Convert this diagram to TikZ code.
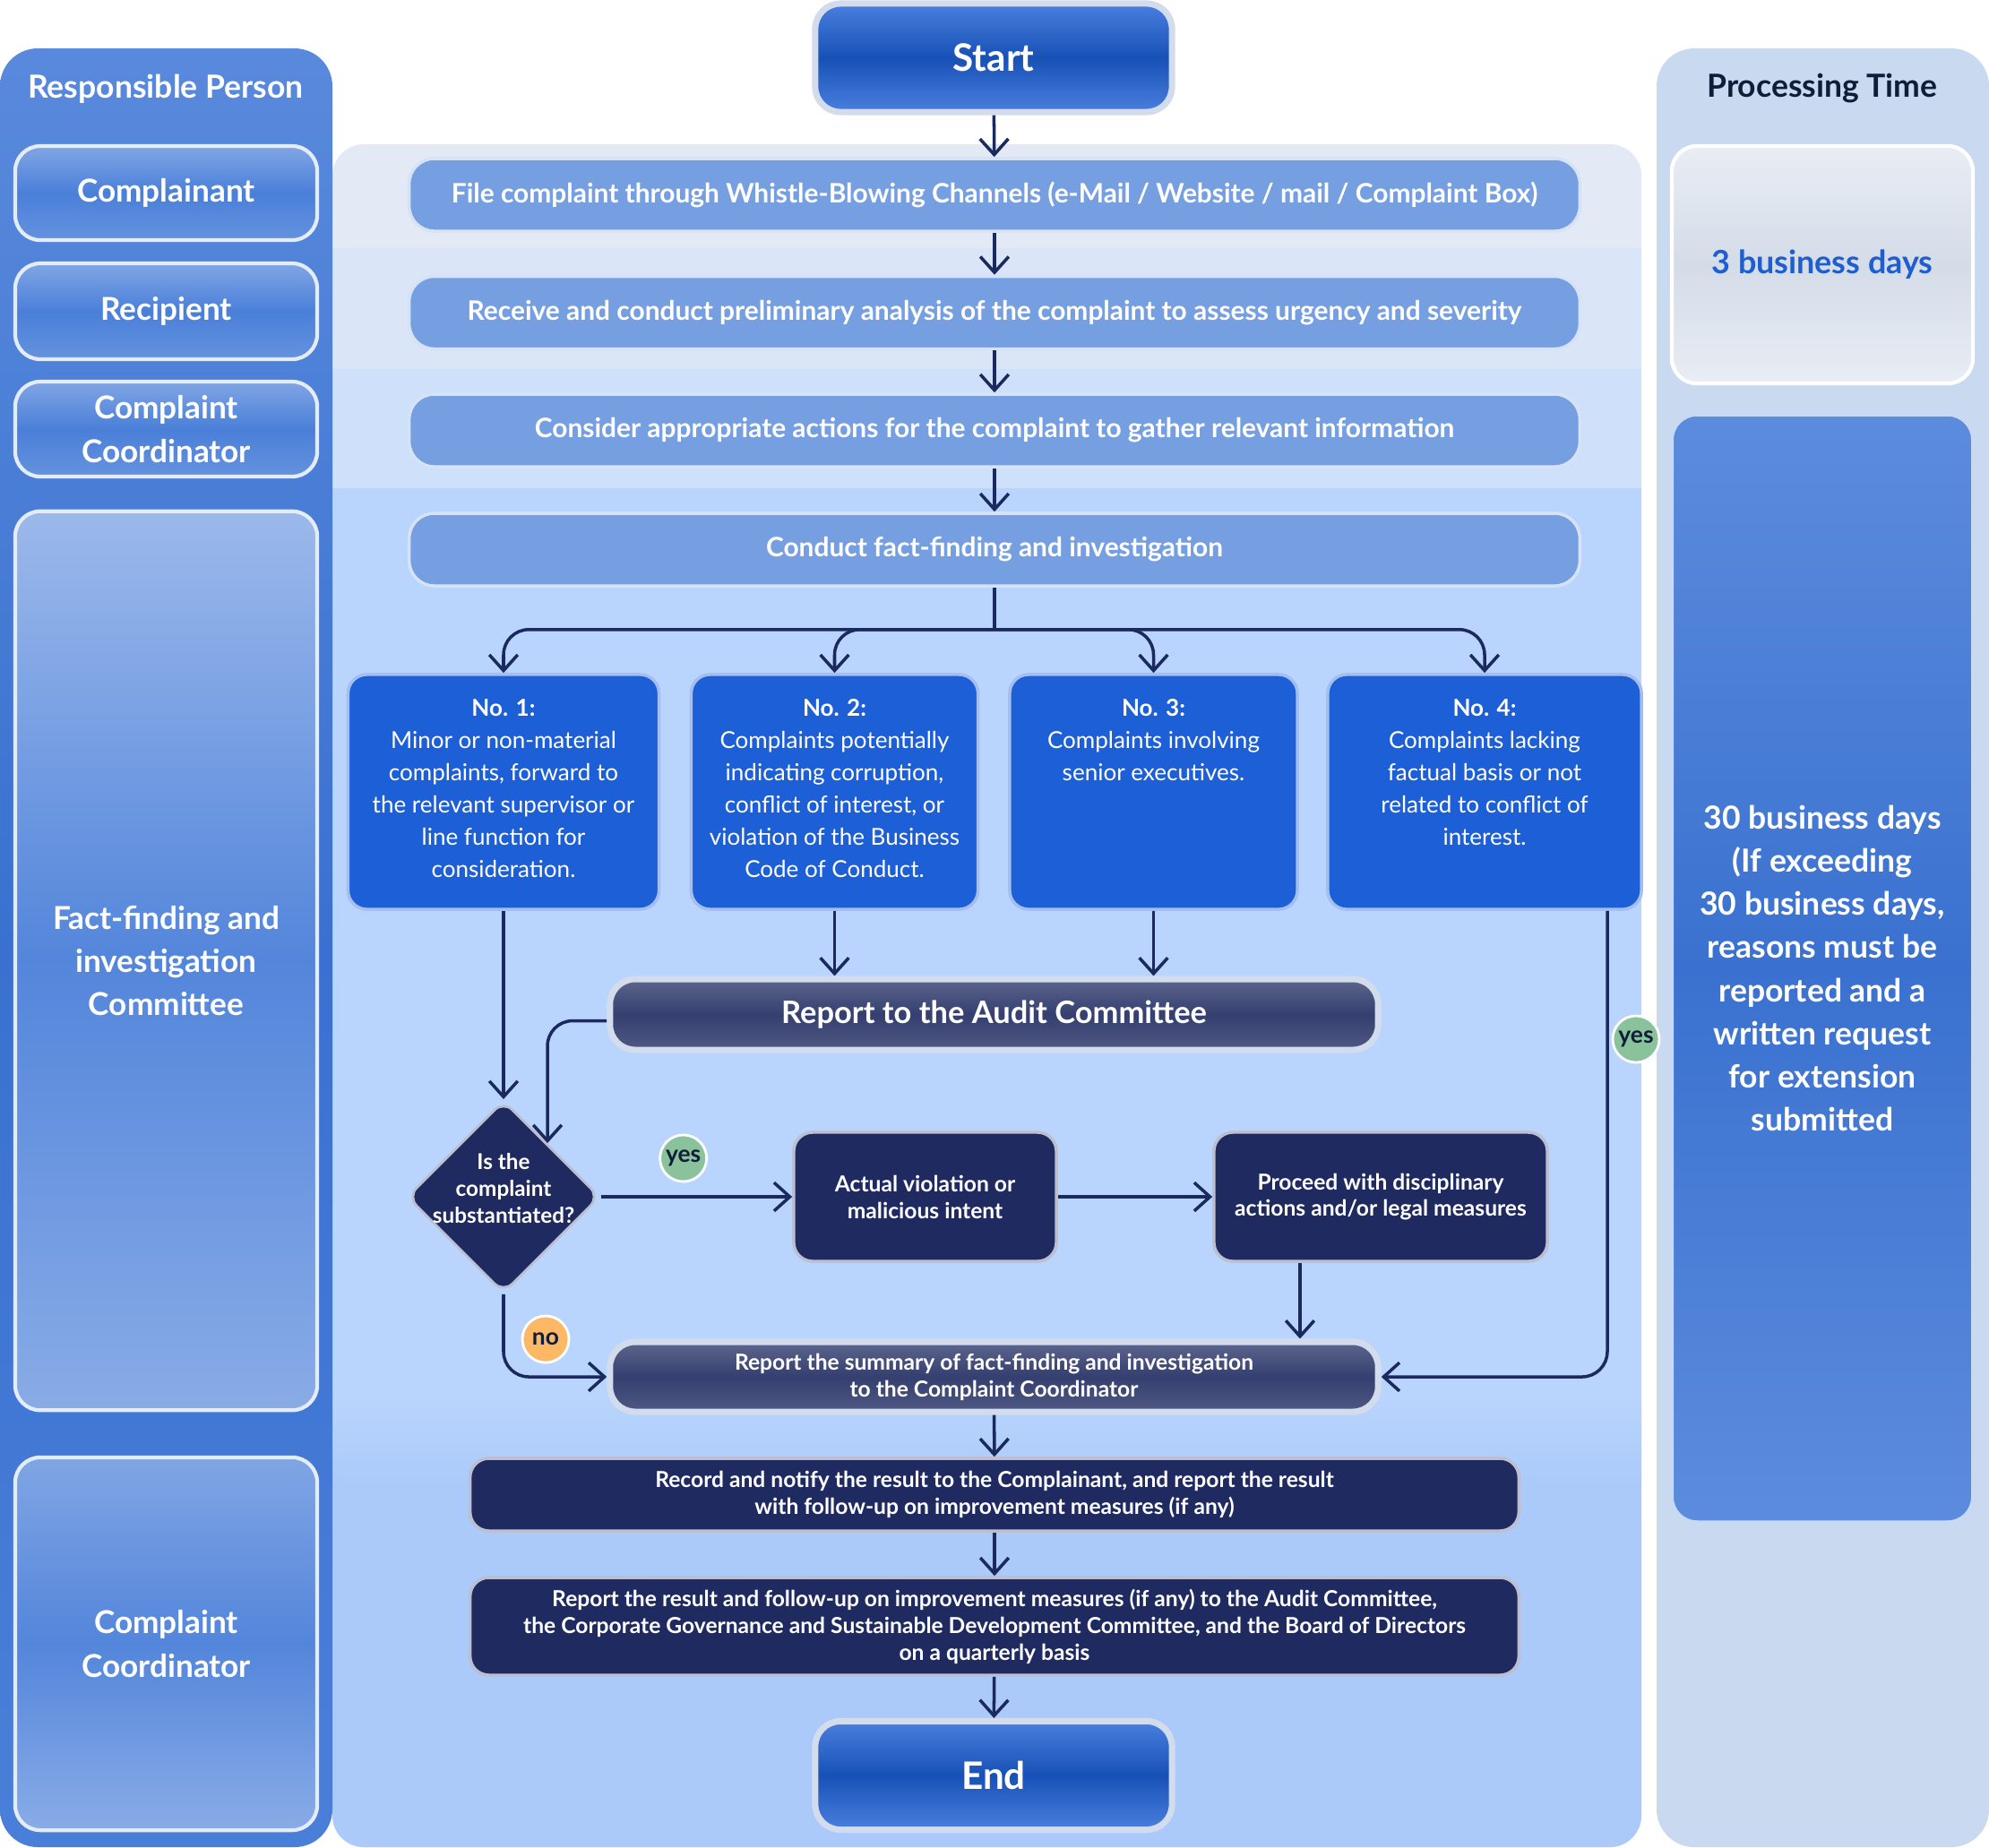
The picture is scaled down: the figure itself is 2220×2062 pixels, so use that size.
\documentclass[tikz,border=0pt]{standalone}
\usepackage{fontspec}
\setmainfont{Lato}
\usepackage{xcolor}
\usetikzlibrary{shapes,arrows.meta,positioning,calc}

\definecolor{colbg}{HTML}{4A7FD9}
\definecolor{colbgdark}{HTML}{3A71D0}
\definecolor{timebg}{HTML}{C9D9F0}
\definecolor{stepblue}{HTML}{769FE2}
\definecolor{casebg}{HTML}{1C5FD6}
\definecolor{navy}{HTML}{1E2A60}
\definecolor{arrowc}{HTML}{1B2A5E}
\definecolor{bandA}{HTML}{E3E9F5}
\definecolor{bandB}{HTML}{DAE5F8}
\definecolor{bandC}{HTML}{CFE0FB}
\definecolor{bandD}{HTML}{B9D5FD}
\definecolor{bandE}{HTML}{ABCAFA}
\definecolor{yesgreen}{HTML}{8AC29C}
\definecolor{noorange}{HTML}{FDB865}
\definecolor{daysblue}{HTML}{1F5ED0}
\definecolor{headdark}{HTML}{0F1E38}
\definecolor{rim}{HTML}{D3DCEC}
\definecolor{daystop}{HTML}{E9EDF4}
\definecolor{daysmid}{HTML}{D4DCE8}

\newcommand{\fsz}[2]{\fontsize{#1}{#2}\selectfont}
\newcommand{\casetext}[2]{\parbox[c][2.06cm][t]{#1}{\centering #2}}

\tikzstyle{line} = [draw=arrowc, line width=1pt, -{Straight Barb[length=5pt,width=9pt,line width=1pt]}]
\tikzstyle{rolebox} = [draw=white!85!colbg, line width=1.2pt, rounded corners=8pt,
  top color=colbg!70!white, bottom color=colbg!85!white, middle color=colbg,
  text=white, font=\bfseries\fsz{10}{13.7}, align=center, minimum width=3.37cm]
\tikzstyle{stepbox} = [fill=stepblue, draw=white!70!stepblue, line width=1pt, rounded corners=8pt,
  text=white, font=\bfseries\fsz{8.5}{10}, minimum width=13.06cm, minimum height=0.81cm]
\tikzstyle{casebox} = [fill=casebg, draw=white!60!casebg, line width=1pt, rounded corners=6pt,
  text=white, font=\fsz{7.4}{10.2}, inner xsep=0pt, inner ysep=0.28cm]
\tikzstyle{darkbox} = [fill=navy, draw=white!70!navy, line width=1pt, rounded corners=6pt,
  text=white, font=\bfseries\fsz{7}{8.5}, align=center]
\tikzstyle{glossbox} = [draw=rim, line width=2pt, rounded corners=8pt,
  top color=navy!72!white, bottom color=navy!78!white, middle color=navy!90!white,
  text=white, align=center, minimum width=8.57cm]
\tikzstyle{terminal} = [draw=rim, line width=2pt, rounded corners=8pt,
  top color=casebg!80!white, bottom color=casebg!80!white, middle color=casebg!85!black,
  text=white, font=\bfseries\fsz{12}{14}, minimum width=3.98cm, minimum height=1.21cm]
\tikzstyle{tag} = [circle, draw=white, line width=0.8pt, minimum size=0.52cm, inner sep=0pt,
  font=\bfseries\fsz{7.5}{9}, text=headdark]

\begin{document}
\begin{tikzpicture}[x=0.01cm, y=-0.01cm]
  \useasboundingbox (0,0) rectangle (2220,2062);

  % lanes in the middle
  \fill[bandA, rounded corners=10pt] (371,161) rectangle (1832,2062);
  \fill[bandB] (371,277) rectangle (1832,412);
  \fill[bandC] (371,412) rectangle (1832,545);
  \fill[bandD] (371,545) rectangle (1832,1560);
  \shade[top color=bandD, bottom color=bandE] (371,1560) rectangle (1832,1660);
  \fill[bandE, rounded corners=10pt] (371,1655) rectangle (1832,2062);
  \fill[bandE] (371,1655) rectangle (1832,1700);

  % side columns
  \shade[top color=colbg!92!white, bottom color=colbg, middle color=colbgdark, rounded corners=12pt]
    (0,54) rectangle (371,2062);
  \fill[timebg, rounded corners=12pt] (1849,54) rectangle (2220,2062);

  \node[text=white, font=\bfseries\fsz{10.1}{12}] (rphead) at (185,99) {Responsible Person};
  \node[text=headdark, font=\bfseries\fsz{10.1}{12}] (pthead) at (2034,99) {Processing Time};

  % responsible persons
  \node[rolebox, minimum height=1.05cm] (role1) at (185.5,215.5) {Complainant};
  \node[rolebox, minimum height=1.07cm] (role2) at (185.5,347.5) {Recipient};
  \node[rolebox, minimum height=1.06cm] (role3) at (185.5,479) {Complaint\\Coordinator};
  \node[rolebox, minimum height=10.03cm, top color=colbg!55!white, bottom color=colbg!65!white,
    middle color=colbg!95!white] (role4) at (185.5,1072.5) {Fact-finding and\\investigation\\Committee};
  \node[rolebox, minimum height=4.16cm, top color=colbg!70!white, bottom color=colbg!65!white,
    middle color=colbg!95!white] (role5) at (185.5,1835) {Complaint\\Coordinator};

  % processing time
  \node[draw=white, line width=1.2pt, rounded corners=8pt, top color=daystop,
    bottom color=daystop, middle color=daysmid, minimum width=3.36cm,
    minimum height=2.65cm, text=daysblue, font=\bfseries\fsz{10.2}{12}] (time1) at (2034,295.5)
    {3 business days};
  \node[draw=white!70!colbg, line width=1.2pt, rounded corners=8pt, top color=colbg!90!white,
    bottom color=colbg!90!white, middle color=colbgdark, minimum width=3.36cm, minimum height=12.36cm,
    text=white, font=\bfseries\fsz{10.1}{13.7}, align=center] (time2) at (2034,1081)
    {30 business days\\(If exceeding\\30 business days,\\reasons must be\\reported and a\\written request\\for extension\\submitted};

  % main flow
  \node[terminal] (start) at (1109,64.5) {Start};
  \node[stepbox] (step1) at (1110,217.5) {File complaint through Whistle-Blowing Channels (e-Mail / Website / mail / Complaint Box)};
  \node[stepbox] (step2) at (1110,349) {Receive and conduct preliminary analysis of the complaint to assess urgency and severity};
  \node[stepbox] (step3) at (1110,480.5) {Consider appropriate actions for the complaint to gather relevant information};
  \node[stepbox] (step4) at (1110,613.5) {Conduct fact-finding and investigation};

  % four cases
  \node[casebox] (no1) at (562,884) {\casetext{3.47cm}{\textbf{No. 1:}\\Minor or non-material\\complaints, forward to\\the relevant supervisor or\\line function for\\consideration.}};
  \node[casebox] (no2) at (931.5,884) {\casetext{3.20cm}{\textbf{No. 2:}\\Complaints potentially\\indicating corruption,\\conflict of interest, or\\violation of the Business\\Code of Conduct.}};
  \node[casebox] (no3) at (1287.5,884) {\casetext{3.21cm}{\textbf{No. 3:}\\Complaints involving\\senior executives.}};
  \node[casebox] (no4) at (1657,884) {\casetext{3.50cm}{\textbf{No. 4:}\\Complaints lacking\\factual basis or not\\related to conflict of\\interest.}};

  \node[glossbox, minimum height=0.79cm, font=\bfseries\fsz{9.8}{11}] (rac) at (1109.5,1132.5) {Report to the Audit Committee};
  \node[diamond, fill=navy, draw=white!70!navy, line width=0.8pt, rounded corners=4pt, minimum width=2.15cm,
    minimum height=2.15cm, inner sep=0pt, text=white, font=\bfseries\fsz{6.9}{8.5}] (dec) at (562,1336)
    {\smash{\makebox[0pt]{\begin{tabular}{@{}c@{}}Is the\\complaint\\substantiated?\end{tabular}}}};
  \node[darkbox, minimum width=2.93cm, minimum height=1.44cm] (act) at (1032.5,1336) {Actual violation or\\malicious intent};
  \node[darkbox, minimum width=3.72cm, minimum height=1.44cm] (proc) at (1541,1336) {Proceed with disciplinary\\actions and/or legal measures};
  \node[glossbox, minimum height=0.78cm, font=\bfseries\fsz{7}{8.5}] (sum) at (1109.5,1537) {Report the summary of fact-finding and investigation\\to the Complaint Coordinator};
  \node[darkbox, minimum width=11.7cm, minimum height=0.81cm] (rec) at (1110,1668.5) {Record and notify the result to the Complainant, and report the result\\with follow-up on improvement measures (if any)};
  \node[darkbox, minimum width=11.7cm, minimum height=1.09cm] (res) at (1110,1815.5) {Report the result and follow-up on improvement measures (if any) to the Audit Committee,\\the Corporate Governance and Sustainable Development Committee, and the Board of Directors\\on a quarterly basis};
  \node[terminal] (end) at (1109,1982) {End};

  % straight arrows down
  \draw[line] (start) -- (step1);
  \draw[line] (step1) -- (step2);
  \draw[line] (step2) -- (step3);
  \draw[line] (step3) -- (step4);

  % fork to the four cases
  \coordinate (fork) at ($(step4.south)+(0,47)$);
  \draw[arrowc, line width=1pt] (step4.south) -- (fork);
  \foreach \c in {no1,no2,no3,no4}
    \draw[line, rounded corners=8pt] (fork) -| (\c.north);

  \draw[line] (no1) -- (dec);
  \draw[line] (no2.south) -- (no2.south |- rac.north);
  \draw[line] (no3.south) -- (no3.south |- rac.north);
  \coordinate (decin) at ($(dec.north)!0.45!(dec.east)$);
  \draw[line, rounded corners=8pt] ([yshift=-2pt]rac.west) -| (decin);

  % decision
  \draw[line] (dec) -- (act) node[tag, fill=yesgreen, pos=0.43, yshift=0.43cm] (yes1) {yes};
  \draw[line] (act) -- (proc);
  \coordinate (procout) at ($(proc.south)+(-90,0)$);
  \draw[line] (procout) -- (procout |- sum.north);
  \draw[line, rounded corners=8pt] (dec.south) |- (sum.west);
  \node[tag, fill=noorange] (no) at (609,1495) {no};
  \coordinate (no4out) at ($(no4.south)+(137,0)$);
  \draw[line, rounded corners=8pt] (no4out) |- (sum.east);
  \node[tag, fill=yesgreen] (yes2) at (1826,1160) {yes};

  % closing steps
  \draw[line] (sum) -- (rec);
  \draw[line] (rec) -- (res);
  \draw[line] (res) -- (end);
\end{tikzpicture}
\end{document}
